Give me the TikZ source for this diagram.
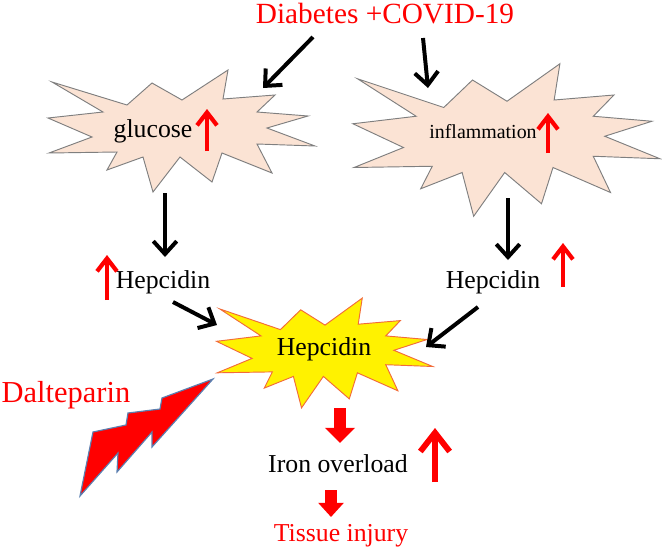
\documentclass[tikz,border=0pt]{standalone}
\usepackage{fontspec}
\setmainfont{Liberation Serif}
\usetikzlibrary{arrows.meta}
\definecolor{peach}{HTML}{FBE3D4}
\definecolor{burstline}{HTML}{7F7F7F}
\definecolor{hepline}{HTML}{F26B3A}
\definecolor{boltline}{HTML}{5B7FB0}

\newcommand{\burst}[4]{%
  \begin{scope}[shift={#1}, xscale=#2, yscale=#3]
    \draw[#4] (-130,-49) -- (-55,-26) -- (-30,-48) -- (0,-31) -- (46,-61) -- (41,-32) -- (93,-36) -- (75,-19)
      -- (126,-15) -- (85,-3) -- (133,15) -- (75,13) -- (90,42) -- (40,22) -- (30,51) -- (-2,26)
      -- (-29,61) -- (-39,26) -- (-75,39) -- (-65,21) -- (-133,22) -- (-90,6) -- (-134,-13) -- (-79,-19) -- cycle;
  \end{scope}}

\begin{document}
\begin{tikzpicture}[x=0.03cm, y=-0.03cm,
    every node/.style={font=\fontsize{22}{26}\selectfont, anchor=base, inner sep=0pt},
    blk/.style={line width=3.4pt, -{Straight Barb[length=11pt, width=20pt]}},
    upr/.style={red, line width=3.6pt, -{Straight Barb[length=11pt, width=17pt]}},
    dnblock/.style={red, -{Triangle[length=13pt, width=25pt]}}]
    \useasboundingbox (0,0) rectangle (662,551);
    \burst{(182,131)}{1}{1}{draw=burstline, fill=peach, line width=0.8pt}
    \burst{(507,140)}{1.15}{1.25}{draw=burstline, fill=peach, line width=0.8pt}
    \burst{(325,353)}{0.81}{0.9}{draw=hepline, fill=yellow, line width=0.8pt}
    \draw[draw=boltline, fill=red, line width=1pt, line join=miter] (213,379) -- (162,398) -- (160,409) -- (128,413)
      -- (126,425) -- (93,432) -- (80,496) -- (118,453) -- (117,472) -- (152,432) -- (152,447) -- cycle;

    \node[red, font=\fontsize{25}{30}\selectfont] (dc) at (385,23) {Diabetes +COVID-19};
    \node (glu) at (153,137) {glucose};
    \node[font=\fontsize{17}{20}\selectfont] (infl) at (483,138) {inflammation};
    \node (hepl) at (163,288) {Hepcidin};
    \node (hepr) at (493,288) {Hepcidin};
    \node (hep) at (324,355) {Hepcidin};
    \node (iron) at (338,472) {Iron overload};
    \node[red] (tis) at (341,541) {Tissue injury};
    \node[red, font=\fontsize{26}{30}\selectfont] (dal) at (66,402) {Dalteparin};

    \coordinate (dc1) at (313,37);   \coordinate (glu1) at (263,88);
    \coordinate (dc2) at (423,38);   \coordinate (infl1) at (428,88);
    \coordinate (glu2) at (165,193); \coordinate (hepl1) at (165,257);
    \coordinate (infl2) at (508,198);\coordinate (hepr1) at (508,260);
    \coordinate (hepl2) at (173,302);\coordinate (hep1) at (217,325);
    \coordinate (hepr2) at (478,307);\coordinate (hep2) at (426,347);
    \coordinate (hep3) at (340,408); \coordinate (iron1) at (340,443);
    \coordinate (iron2) at (331,490);\coordinate (tis1) at (331,517);

    \draw[blk] (dc1) -- (glu1);
    \draw[blk] (dc2) -- (infl1);
    \draw[blk] (glu2) -- (hepl1);
    \draw[blk] (infl2) -- (hepr1);
    \draw[blk] (hepl2) -- (hep1);
    \draw[blk] (hepr2) -- (hep2);
    \draw[dnblock, line width=11pt] (hep3) -- (iron1);
    \draw[dnblock, line width=10pt, -{Triangle[length=12pt, width=21pt]}] (iron2) -- (tis1);

    \draw[upr] (207,151) -- (207,109);
    \draw[upr] (548,153) -- (548,113);
    \draw[upr] (107,300) -- (107,255);
    \draw[upr] (563,287) -- (563,243);
    \draw[upr, line width=5pt, -{Straight Barb[length=16pt, width=25pt]}] (435,482) -- (435,428);
\end{tikzpicture}
\end{document}
